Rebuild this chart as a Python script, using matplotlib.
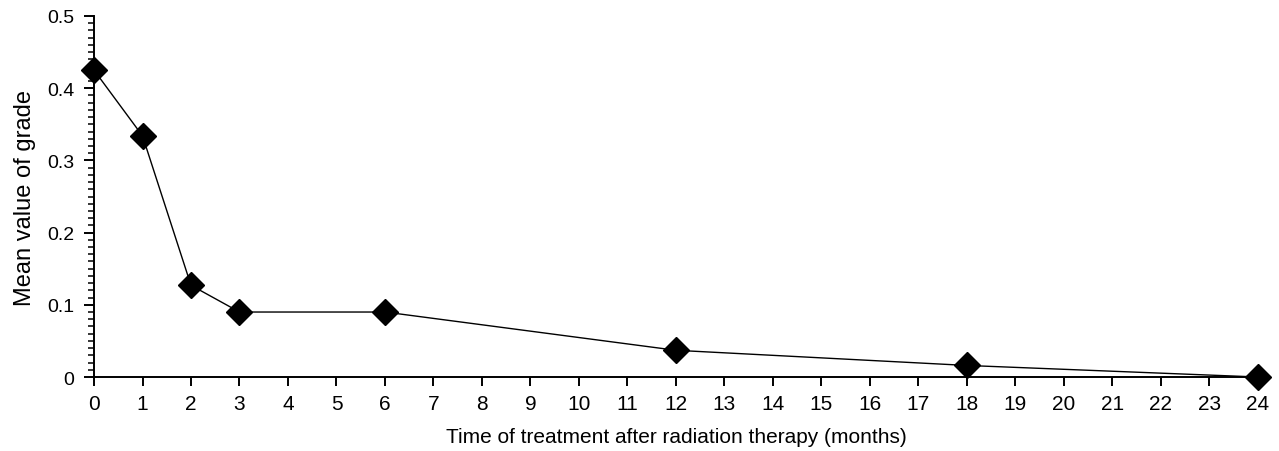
import matplotlib
matplotlib.use('Agg')
import matplotlib.pyplot as plt
from matplotlib.ticker import MultipleLocator

plt.rcParams['font.family'] = ['Liberation Sans', 'DejaVu Sans']

#data
months = [0, 1, 2, 3, 6, 12, 18, 24]
mean_grade = [0.425, 0.334, 0.127, 0.090, 0.090, 0.037, 0.016, 0.0]
x_ticks = list(range(0, 25))
y_ticks = [0, 0.1, 0.2, 0.3, 0.4, 0.5]
y_tick_labels = ['0', '0.1', '0.2', '0.3', '0.4', '0.5']

fig = plt.figure(figsize=(12.79, 4.52), dpi=100)
ax = fig.add_axes([0.0735, 0.1637, 0.91, 0.7987])

ax.plot(months, mean_grade, color='black', linewidth=1.0, marker='D',
        markersize=13, markerfacecolor='black', clip_on=False, zorder=3)

ax.set_xlim(0, 24)
ax.set_ylim(0, 0.5)
ax.set_xticks(x_ticks)
ax.set_xticklabels([str(t) for t in x_ticks], fontsize=15)
ax.set_yticks(y_ticks)
ax.set_yticklabels(y_tick_labels, fontsize=14)
ax.yaxis.set_minor_locator(MultipleLocator(0.01))

for side in ['top', 'right']:
    ax.spines[side].set_visible(False)
for side in ['left', 'bottom']:
    ax.spines[side].set_linewidth(1.4)

ax.tick_params(axis='both', which='major', direction='out', length=7, width=1.4)
ax.tick_params(axis='x', which='major', length=6.5, pad=6)
ax.tick_params(axis='y', which='major', pad=7)
ax.tick_params(axis='y', which='minor', direction='out', length=4.5, width=1.1)

ax.set_xlabel('Time of treatment after radiation therapy (months)', fontsize=15, labelpad=10)
ax.set_ylabel('Mean value of grade', fontsize=17, labelpad=8)

fig.savefig('out.png', dpi=100)
